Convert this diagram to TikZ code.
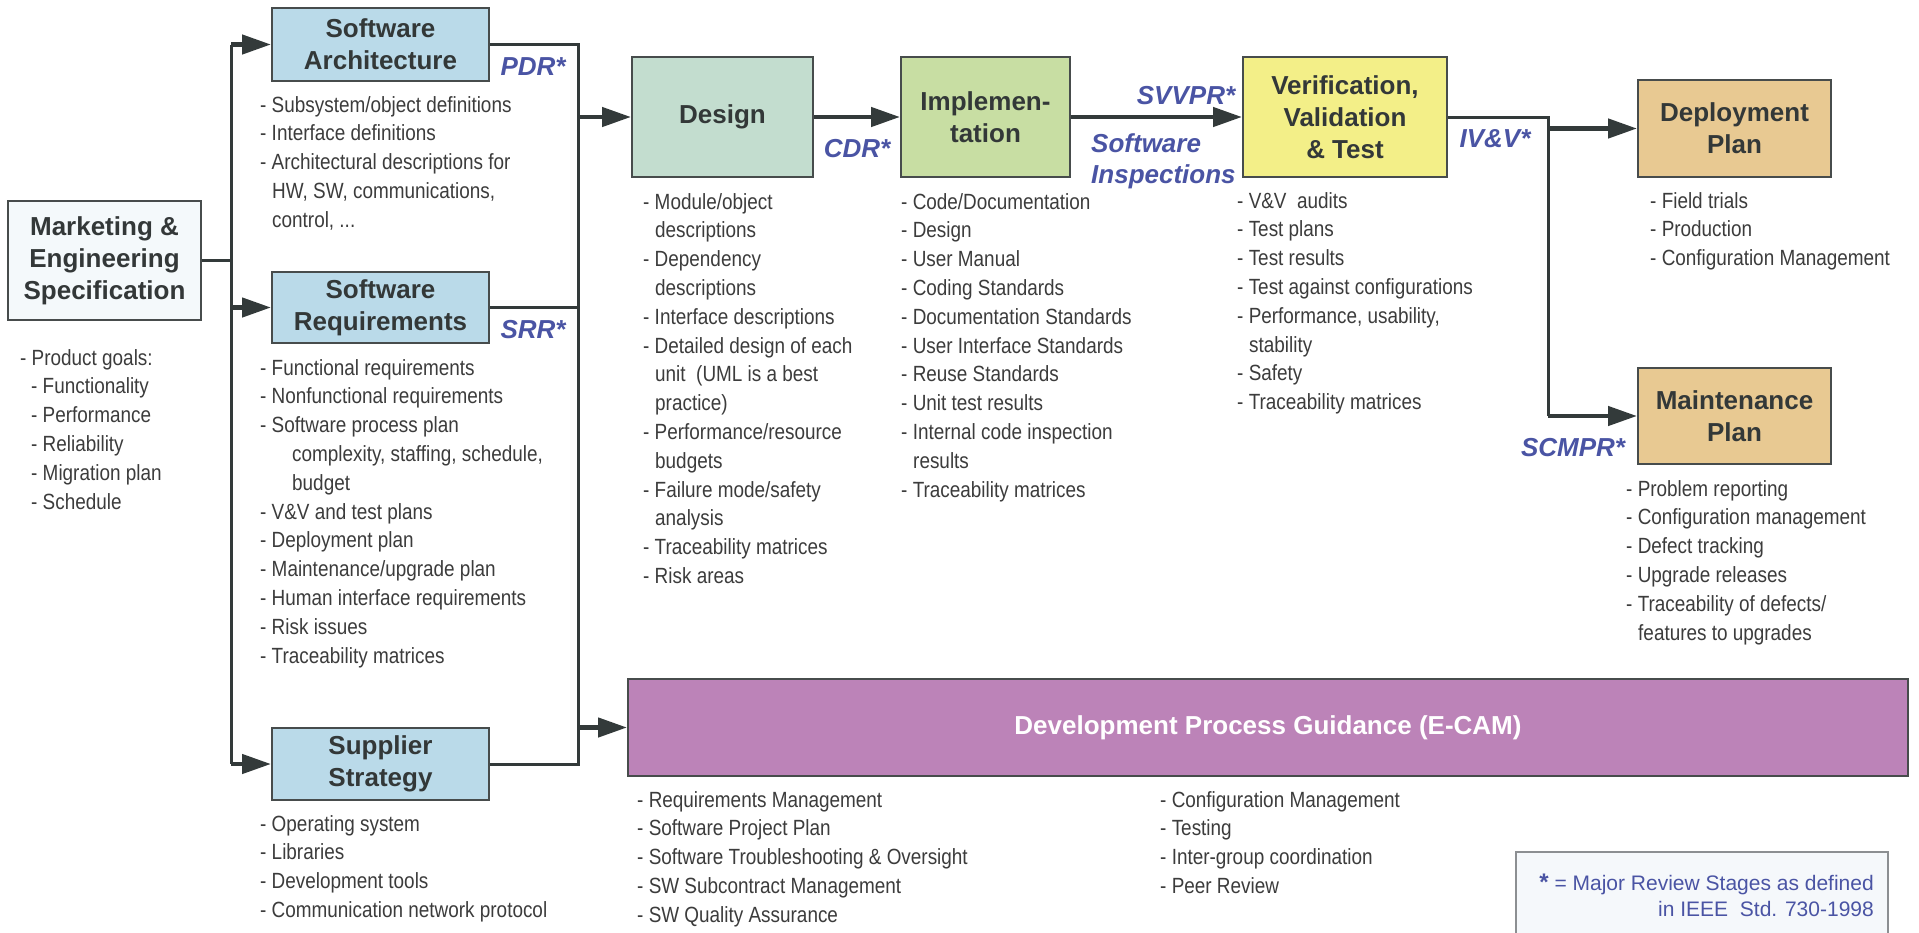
\documentclass[tikz,border=0pt]{standalone}
\usepackage{fontspec}
\setmainfont{Liberation Sans}
\newfontfamily\narrowfont[FakeStretch=0.86]{Liberation Sans}
\usetikzlibrary{arrows.meta,positioning,calc}

\definecolor{linegray}{HTML}{333A3A}
\definecolor{edgegray}{HTML}{474C4C}
\definecolor{titlegray}{HTML}{333838}
\definecolor{textgray}{HTML}{3C3C3C}
\definecolor{reviewblue}{HTML}{4A54A4}
\definecolor{specfill}{HTML}{F4F9FB}
\definecolor{archfill}{HTML}{BADAE9}
\definecolor{designfill}{HTML}{C3DDCF}
\definecolor{implfill}{HTML}{C8DEA3}
\definecolor{testfill}{HTML}{F3EF88}
\definecolor{planfill}{HTML}{E8C992}
\definecolor{guidefill}{HTML}{BC83B8}
\definecolor{notefill}{HTML}{F5F8FB}
\definecolor{noteedge}{HTML}{8C8F92}

\newcommand{\wrapind}{\hspace*{12pt}}
\newcommand{\nestind}{\hspace*{11pt}}
\newcommand{\deepind}{\hspace*{32pt}}

\tikzset{
  stage/.style={draw=edgegray, line width=2pt, align=center, inner sep=0pt,
    font=\bfseries\fontsize{26}{32}\selectfont, text=titlegray},
  items/.style={anchor=north west, align=left, inner sep=0pt, text=textgray,
    font=\narrowfont\fontsize{22}{28.8}\selectfont},
  review/.style={text=reviewblue, inner sep=0pt,
    font=\bfseries\itshape\fontsize{26}{31}\selectfont},
  link/.style={draw=linegray, line width=3pt},
  flow/.style={draw=linegray, line width=4.5pt, -{Triangle[length=29pt,width=19pt]}},
}

\begin{document}
\begin{tikzpicture}[x=1pt,y=-1pt]
\fill[white] (0,0) rectangle (1919,932);
\useasboundingbox (0,0) rectangle (1919,932);

\node[stage, fill=specfill, minimum width=193pt, minimum height=119pt] (mkt) at (104.5,260.5) {Marketing \&\\Engineering\\Specification};
\node[stage, fill=archfill, minimum width=217pt, minimum height=73pt] (sa) at (380.5,44.5) {Software\\Architecture};
\node[stage, fill=archfill, minimum width=217pt, minimum height=71pt] (sr) at (380.5,307.5) {Software\\Requirements};
\node[stage, fill=archfill, minimum width=217pt, minimum height=72pt] (ss) at (380.5,764) {Supplier\\Strategy};
\node[stage, fill=designfill, minimum width=181pt, minimum height=120pt] (design) at (722.5,117) {Design};
\node[stage, fill=implfill, minimum width=169pt, minimum height=120pt] (impl) at (985.5,117) {Implemen-\\tation};
\node[stage, fill=testfill, minimum width=204pt, minimum height=120pt] (vvt) at (1345,117) {Verification,\\Validation\\\& Test};
\node[stage, fill=planfill, minimum width=193pt, minimum height=97pt] (deploy) at (1734.5,128.5) {Deployment\\Plan};
\node[stage, fill=planfill, minimum width=193pt, minimum height=96pt] (maint) at (1734.5,416) {Maintenance\\Plan};
\node[stage, fill=guidefill, text=white, minimum width=1280pt, minimum height=97pt] (ecam) at (1268,727.5) {Development Process Guidance (E-CAM)};

\node[review] (pdr) at (533,67) {PDR*};
\node[review] (srr) at (533,330) {SRR*};
\node[review] (cdr) at (857,149) {CDR*};
\node[review] (svvpr) at (1186,96) {SVVPR*};
\node[review, align=left, anchor=west] (insp) at (1091,161.5) {Software\\Inspections};
\node[review] (ivv) at (1495,139) {IV\&V*};
\node[review] (scmpr) at (1573,448) {SCMPR*};

\node[items] (mktitems) at (20,349) {- Product goals:\\\nestind- Functionality\\\nestind- Performance\\\nestind- Reliability\\\nestind- Migration plan\\\nestind- Schedule};
\node[items] (saitems) at (260,96) {- Subsystem/object definitions\\- Interface definitions\\- Architectural descriptions for\\\wrapind HW, SW, communications,\\\wrapind control, ...};
\node[items] (sritems) at (260,359) {- Functional requirements\\- Nonfunctional requirements\\- Software process plan\\\deepind complexity, staffing, schedule,\\\deepind budget\\- V\&V and test plans\\- Deployment plan\\- Maintenance/upgrade plan\\- Human interface requirements\\- Risk issues\\- Traceability matrices};
\node[items] (ssitems) at (260,815) {- Operating system\\- Libraries\\- Development tools\\- Communication network protocol};
\node[items] (designitems) at (643,193) {- Module/object\\\wrapind descriptions\\- Dependency\\\wrapind descriptions\\- Interface descriptions\\- Detailed design of each\\\wrapind unit\ \ (UML is a best\\\wrapind practice)\\- Performance/resource\\\wrapind budgets\\- Failure mode/safety\\\wrapind analysis\\- Traceability matrices\\- Risk areas};
\node[items] (implitems) at (901,193) {- Code/Documentation\\- Design\\- User Manual\\- Coding Standards\\- Documentation Standards\\- User Interface Standards\\- Reuse Standards\\- Unit test results\\- Internal code inspection\\\wrapind results\\- Traceability matrices};
\node[items] (vvtitems) at (1237,192) {- V\&V\ \ audits\\- Test plans\\- Test results\\- Test against configurations\\- Performance, usability,\\\wrapind stability\\- Safety\\- Traceability matrices};
\node[items] (deployitems) at (1650,192) {- Field trials\\- Production\\- Configuration Management};
\node[items] (maintitems) at (1626,480) {- Problem reporting\\- Configuration management\\- Defect tracking\\- Upgrade releases\\- Traceability of defects/\\\wrapind features to upgrades};
\node[items] (ecamitems) at (637,791) {- Requirements Management\\- Software Project Plan\\- Software Troubleshooting \& Oversight\\- SW Subcontract Management\\- SW Quality Assurance};
\node[items] (ecamitemsb) at (1160,791) {- Configuration Management\\- Testing\\- Inter-group coordination\\- Peer Review};

\node[draw=noteedge, line width=1.5pt, fill=notefill, minimum width=372pt, minimum height=120pt, anchor=north west] (legend) at (1515,851) {};
\node[anchor=north east, align=right, inner sep=0pt, text=reviewblue, font=\fontsize{21}{26}\selectfont] (legendtext) at (1874,874) {{\bfseries\fontsize{24}{26}\selectfont *} = Major Review Stages as defined\\in IEEE\ \ Std. 730-1998};

\draw[link] (mkt.east) -- ++(29,0) coordinate (lbus);
\draw[link] (lbus |- sa.west) -- (lbus |- ss.west);
\draw[flow] (lbus |- sa.west) -- (sa.west);
\draw[flow] (lbus |- sr.west) -- (sr.west);
\draw[flow] (lbus |- ss.west) -- (ss.west);

\coordinate (rbus) at (578,0);
\draw[link] (sa.east) -- (rbus |- sa.east) -- (rbus |- ss.east) -- (ss.east);
\draw[link] (sr.east) -- (rbus |- sr.east);
\draw[flow] (rbus |- design.west) -- (design.west);
\draw[flow] (rbus |- ecam.west) -- (ecam.west);

\draw[flow] (design) -- (impl);
\draw[flow] (impl) -- (vvt);

\coordinate (vbus) at (1548,0);
\draw[link] (vvt.east) -- (vbus |- vvt.east) -- (vbus |- maint.west);
\draw[flow] (vbus |- maint.west) -- (maint.west);
\draw[flow] (vbus |- deploy.west) -- (deploy.west);
\end{tikzpicture}
\end{document}
